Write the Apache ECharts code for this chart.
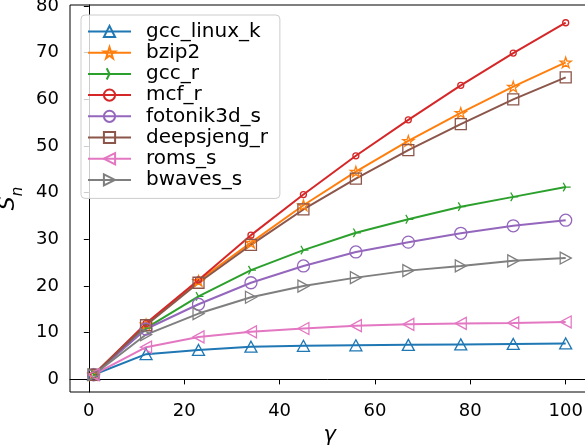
<!DOCTYPE html>
<html><head><meta charset="utf-8">
<script src="https://cdn.jsdelivr.net/npm/echarts@6/dist/echarts.min.js"></script>
<style>html,body{margin:0;padding:0;background:#fff}#c{width:585px;height:448px}</style>
</head><body><div id="c"></div>
<script>
const gammas = [1, 12, 23, 34, 45, 56, 67, 78, 89, 100];
const gccLinuxK = [1, 5.4, 6.3, 7.0, 7.2, 7.3, 7.4, 7.5, 7.6, 7.7];
const bzip2 = [1, 11.8, 21.1, 29.3, 37.3, 44.5, 51.1, 57.1, 62.7, 67.9];
const gccR = [1, 11.0, 17.8, 23.4, 27.7, 31.4, 34.3, 37.0, 39.1, 41.2];
const mcfR = [1, 12.0, 21.3, 30.9, 39.6, 47.9, 55.6, 63.0, 69.9, 76.4];
const fotonik3dS = [1, 10.8, 16.1, 20.7, 24.3, 27.3, 29.4, 31.3, 32.9, 34.1];
const deepsjengR = [1, 11.6, 20.7, 28.8, 36.4, 43.0, 49.1, 54.7, 60.0, 64.7];
const romsS = [1, 6.9, 9.1, 10.2, 10.9, 11.5, 11.8, 12.0, 12.1, 12.3];
const bwavesS = [1, 9.6, 14.1, 17.6, 20.0, 21.8, 23.3, 24.3, 25.4, 26.0];
const xTicks = [0, 20, 40, 60, 80, 100];
const yTicks = [0, 10, 20, 30, 40, 50, 60, 70, 80];

const STAR = 'path://M0,-10 L2.245,-3.09 L9.511,-3.09 L3.633,1.18 L5.878,8.09 L0,3.82 L-5.878,8.09 L-3.633,1.18 L-9.511,-3.09 L-2.245,-3.09 Z';
const TRI_RIGHT = 'path://M0,0 L10,0 M0,0 L-5,-8.66 M0,0 L-5,8.66 M-10,0 L-10,0';

const seriesDefs = [
  {name: 'gcc_linux_k', data: gccLinuxK, color: '#1f77b4', symbol: 'triangle', size: [12, 11], rot: 0},
  {name: 'bzip2', data: bzip2, color: '#ff7f0e', symbol: STAR, size: 11, rot: 0},
  {name: 'gcc_r', data: gccR, color: '#2ca02c', symbol: TRI_RIGHT, size: 10, rot: 0},
  {name: 'mcf_r', data: mcfR, color: '#d62728', symbol: 'circle', size: 6, rot: 0},
  {name: 'fotonik3d_s', data: fotonik3dS, color: '#9467bd', symbol: 'circle', size: 12, rot: 0},
  {name: 'deepsjeng_r', data: deepsjengR, color: '#8c564b', symbol: 'rect', size: 11, rot: 0},
  {name: 'roms_s', data: romsS, color: '#e377c2', symbol: 'triangle', size: [12, 11], rot: 90},
  {name: 'bwaves_s', data: bwavesS, color: '#7f7f7f', symbol: 'triangle', size: [12, 11], rot: -90}
];

const chart = echarts.init(document.getElementById('c'), null, {renderer: 'canvas'});
const FONT = 'DejaVu Sans';
chart.setOption({
  animation: false,
  backgroundColor: '#fff',
  textStyle: {fontFamily: FONT},
  grid: {left: 70, top: 5, width: 519.3, height: 387, containLabel: false, outerBoundsMode: 'none',
         show: true, borderColor: '#000', borderWidth: 1, backgroundColor: 'transparent'},
  xAxis: {
    type: 'value', min: -3.95, max: 104.95,
    name: 'γ', nameLocation: 'middle', nameGap: 33,
    nameTextStyle: {fontSize: 21, fontStyle: 'italic', color: '#000', fontFamily: FONT},
    axisLine: {show: true, lineStyle: {color: '#000', width: 1}},
    axisTick: {show: true, length: 5, lineStyle: {color: '#000'}, customValues: xTicks},
    axisLabel: {fontSize: 18, color: '#000', margin: 10, customValues: xTicks, fontFamily: FONT},
    splitLine: {show: false}
  },
  yAxis: {
    type: 'value', min: -2.7, max: 80.2,
    name: '{s|S}{n|n}', nameLocation: 'middle', nameGap: 39, nameRotate: 90,
    nameTextStyle: {
      color: '#000',
      rich: {
        s: {fontSize: 22, fontStyle: 'italic', fontFamily: FONT, color: '#000', verticalAlign: 'bottom', lineHeight: 26},
        n: {fontSize: 15, fontStyle: 'italic', fontFamily: FONT, color: '#000', verticalAlign: 'bottom', lineHeight: 26, padding: [0, 0, -6, 0]}
      }
    },
    axisLine: {show: true, lineStyle: {color: '#000', width: 1}},
    axisTick: {show: true, length: 5, lineStyle: {color: '#000'}, customValues: yTicks},
    axisLabel: {fontSize: 18, color: '#000', margin: 11, customValues: yTicks, fontFamily: FONT},
    splitLine: {show: false}
  },
  legend: {
    orient: 'vertical', left: 81, top: 15,
    padding: [6, 12, 8, 6],
    itemWidth: 43, itemHeight: 14, itemGap: 0.2,
    backgroundColor: 'rgba(255,255,255,0.8)', borderColor: '#ccc', borderWidth: 1, borderRadius: 4,
    textStyle: {fontSize: 20, lineHeight: 21, color: '#000', fontFamily: FONT, padding: [0, 0, 0, 10]},
    data: seriesDefs.map(s => s.name)
  },
  series: seriesDefs.map(s => ({
    name: s.name, type: 'line',
    data: gammas.map((g, i) => [g, s.data[i]]),
    symbol: s.symbol, symbolSize: s.size, symbolRotate: s.rot, symbolKeepAspect: true,
    showAllSymbol: true,
    lineStyle: {color: s.color, width: 2},
    itemStyle: {color: 'rgba(255,255,255,0)', borderColor: s.color, borderWidth: 1.3},
    emphasis: {disabled: true}
  }))
});
</script></body></html>
